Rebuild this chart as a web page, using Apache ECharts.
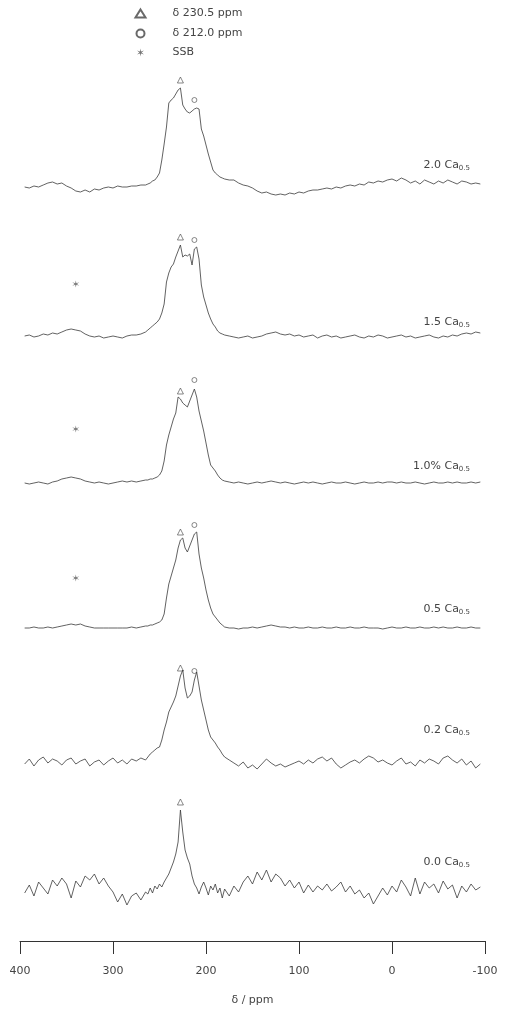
<!DOCTYPE html>
<html>
<head>
<meta charset="utf-8">
<script src="https://cdn.jsdelivr.net/npm/echarts@6/dist/echarts.min.js"></script>
<style>html,body{margin:0;padding:0;background:#fff}#c{width:508px;height:1011px}</style>
</head>
<body>
<div id="c"></div>
<script>
// chemical shift grid (ppm), shared by all spectra
const ppm = [
 395,390,385,380,375,370,365,360,355,350,345,340,335,330,325,320,315,310,305,300,295,290,285,280,275,270,265,
 262.5,260,257.5,255,252.5,250,247.5,245,242.5,240,237.5,235,232.5,230,227.5,225,222.5,220,217.5,215,212.5,210,207.5,205,202.5,200,197.5,195,192.5,190,187.5,185,182.5,180,
 175,170,165,160,155,150,145,140,135,130,125,120,115,110,105,100,95,90,85,80,75,70,65,60,55,50,45,40,35,30,25,20,15,10,5,
 0,-5,-10,-15,-20,-25,-30,-35,-40,-45,-50,-55,-60,-65,-70,-75,-80,-85,-90,-95
];
const xTicks = [400, 300, 200, 100, 0, -100];
const xName = 'δ / ppm';
const sampleLabels = ['2.0 Ca', '1.5 Ca', '1.0% Ca', '0.5 Ca', '0.2 Ca', '0.0 Ca'];
const sampleSub = '0.5';
const legendNames = ['δ 230.5 ppm', 'δ 212.0 ppm', 'SSB'];

const spec1 = [
 2,1,3,2,4,6,7,5,6,3,1,-2,-3,-1,-3,0,-1,1,2,1,3,2,2,3,3,4,4,
 5,6,8,9,12,16,29,45,62,86,89,91,95,99,101,84,80,77,76,78,80,81,80,60,53,44,35,27,19,16,14,12,11,10,
 9,9,6,4,3,1,-2,-4,-3,-5,-6,-5,-6,-4,-5,-3,-4,-2,-1,-1,0,1,0,2,1,3,4,3,5,4,7,6,8,7,9,
 10,8,11,9,6,8,5,9,7,5,8,6,9,7,5,8,7,5,6,5
];
const spec2 = [
 1,2,0,1,3,2,4,3,5,7,8,7,6,3,1,0,1,-1,0,1,0,-1,1,2,2,3,5,
 7,9,11,13,15,18,24,33,55,64,70,73,80,86,92,80,82,81,83,72,88,90,78,52,40,32,24,18,13,10,6,4,3,2,
 1,0,-1,0,1,-1,0,1,3,4,5,3,2,3,1,2,0,1,2,-1,1,2,0,1,-1,0,1,2,0,-1,1,0,2,1,-1,
 0,1,2,0,1,-1,0,1,2,0,-1,1,0,2,1,3,4,3,5,4
];
const spec3 = [
 0,-1,0,1,0,-1,1,2,4,5,6,5,4,2,1,0,1,0,-1,0,1,2,1,2,1,2,3,
 3,4,4,5,6,8,12,22,38,48,56,64,70,86,84,80,78,76,82,88,94,86,72,62,52,40,28,18,15,12,8,5,3,2,
 1,0,1,0,-1,0,1,0,1,2,1,0,1,0,-1,0,1,0,1,0,-1,0,1,0,0,1,0,-1,0,1,0,0,1,0,1,
 1,0,1,0,0,1,0,-1,0,1,0,0,1,0,1,0,0,1,0,1
];
const spec4 = [
 0,0,1,0,0,1,0,1,2,3,4,3,4,2,1,0,0,0,0,0,0,0,0,1,0,1,2,
 2,3,3,4,5,6,8,14,30,44,52,60,68,80,88,90,80,76,82,88,94,96,74,60,50,38,28,20,14,11,8,5,3,1,
 0,0,-1,0,0,1,0,1,2,3,2,1,1,0,1,0,0,1,0,0,1,0,0,1,0,0,1,0,0,1,0,0,0,-1,0,
 1,0,0,1,0,0,1,0,0,1,0,1,0,0,1,0,0,1,0,0
];
const spec5 = [
 -2,3,-4,2,5,-1,3,1,-3,2,4,-2,1,3,-4,0,2,-3,1,4,-1,2,-2,3,1,4,2,
 5,8,10,12,14,15,22,32,40,50,55,60,66,76,86,92,74,64,66,70,82,90,76,62,52,42,32,25,22,19,15,12,8,5,
 2,-1,-4,0,-6,-3,-7,-2,3,-1,-4,-2,-5,-3,-1,1,-2,2,-1,3,5,1,4,-2,-6,-3,0,2,-1,3,6,4,0,2,-1,
 -3,1,4,-2,0,-4,2,-1,3,1,-2,4,6,2,-1,3,-3,1,-6,-2
];
const spec6 = [
 -3,5,-6,8,2,-4,10,4,12,6,-8,9,3,14,10,16,6,12,4,-2,-12,-4,-15,-6,-3,-10,-2,
 -4,2,-3,4,1,6,3,8,12,16,22,28,36,48,80,58,40,32,26,14,6,2,-4,3,8,2,-5,4,0,6,-3,2,-8,1,
 -6,4,-2,8,14,6,18,10,20,8,16,12,4,10,2,8,-3,5,-2,4,0,6,-1,3,8,-2,4,-4,0,-8,-3,-14,-6,2,-5,
 4,-2,10,3,-6,12,-4,8,2,6,-3,9,1,5,-8,4,-2,6,0,3
];
const spectra = [spec1, spec2, spec3, spec4, spec5, spec6];

// layout
const gridTops = [74, 222, 368, 513, 647, 775];
const labelTops = [154, 311, 455, 598, 719, 851];
const GL = 20, GR = 23, GH = 130, YMIN = -15, YMAX = 115;

const grids = [], xAxes = [], yAxes = [], series = [], titles = [];
const triIdx = ppm.indexOf(227.5), cirIdx = ppm.indexOf(212.5), ssbIdx = ppm.indexOf(340);
const starPath = 'path://M5,0 L5.7,3.8 L9.3,2.5 L6.4,5 L9.3,7.5 L5.7,6.2 L5,10 L4.3,6.2 L0.7,7.5 L3.6,5 L0.7,2.5 L4.3,3.8 Z';

spectra.forEach((s, i) => {
  grids.push({left: GL, right: GR, top: gridTops[i], height: GH});
  xAxes.push({type: 'value', gridIndex: i, min: -100, max: 400, inverse: true, show: false});
  yAxes.push({type: 'value', gridIndex: i, min: YMIN, max: YMAX, show: false});
  series.push({
    type: 'line', xAxisIndex: i, yAxisIndex: i, symbol: 'none', silent: true,
    lineStyle: {color: '#3a3a3a', width: 0.8},
    data: ppm.map((p, j) => [p, s[j]])
  });
  series.push({
    name: legendNames[0], type: 'scatter', xAxisIndex: i, yAxisIndex: i,
    symbol: 'triangle', symbolSize: 6,
    itemStyle: {color: 'none', borderColor: '#444', borderWidth: 0.8},
    data: [[ppm[triIdx], s[triIdx] + 8]]
  });
  if (i < 5) {
    series.push({
      name: legendNames[1], type: 'scatter', xAxisIndex: i, yAxisIndex: i,
      symbol: 'circle', symbolSize: 5,
      itemStyle: {color: 'none', borderColor: '#444', borderWidth: 0.8},
      data: [[ppm[cirIdx], s[cirIdx] + 9]]
    });
  }
  if (i >= 1 && i <= 3) {
    series.push({
      name: legendNames[2], type: 'scatter', xAxisIndex: i, yAxisIndex: i,
      symbol: starPath, symbolSize: 7,
      itemStyle: {color: '#555'},
      data: [[ppm[ssbIdx], s[ssbIdx] + [0, 46, 49, 47][i]]]
    });
  }
  titles.push({
    text: '{a|' + sampleLabels[i] + '}{s|' + sampleSub + '}',
    right: 33, top: labelTops[i],
    textStyle: {fontWeight: 'normal', rich: {
      a: {fontSize: 11, color: '#444', fontWeight: 'normal', fontFamily: 'DejaVu Sans'},
      s: {fontSize: 7, color: '#444', fontWeight: 'normal', fontFamily: 'DejaVu Sans', verticalAlign: 'bottom', padding: [6, 0, 0, 0]}
    }}
  });
});

// bottom axis grid
const ax = spectra.length;
grids.push({left: GL, right: GR, top: 940, height: 1});
xAxes.push({
  type: 'value', gridIndex: ax, min: -100, max: 400, interval: 100, inverse: true,
  position: 'bottom',
  axisLine: {show: true, lineStyle: {color: '#333', width: 1}},
  axisTick: {show: true, length: 13, lineStyle: {color: '#333'}},
  splitLine: {show: false},
  axisLabel: {margin: 25, fontSize: 11, color: '#444', fontFamily: 'DejaVu Sans',
    formatter: v => xTicks.includes(v) ? String(v) : ''},
  name: xName, nameLocation: 'middle', nameGap: 54,
  nameTextStyle: {fontSize: 11, color: '#444', fontFamily: 'DejaVu Sans'}
});
yAxes.push({type: 'value', gridIndex: ax, show: false});

const chart = echarts.init(document.getElementById('c'), null, {renderer: 'canvas'});
chart.setOption({
  animation: false,
  backgroundColor: '#fff',
  title: titles,
  legend: {
    orient: 'vertical', left: 128, top: 2, itemGap: 7,
    itemWidth: 10, itemHeight: 8,
    textStyle: {fontSize: 11, color: '#444', fontFamily: 'DejaVu Sans', padding: [0, 0, 0, 22]},
    data: [
      {name: legendNames[0], icon: 'triangle'},
      {name: legendNames[1], icon: 'circle'},
      {name: legendNames[2], icon: starPath}
    ]
  },
  grid: grids, xAxis: xAxes, yAxis: yAxes, series: series
});
</script>
</body>
</html>
